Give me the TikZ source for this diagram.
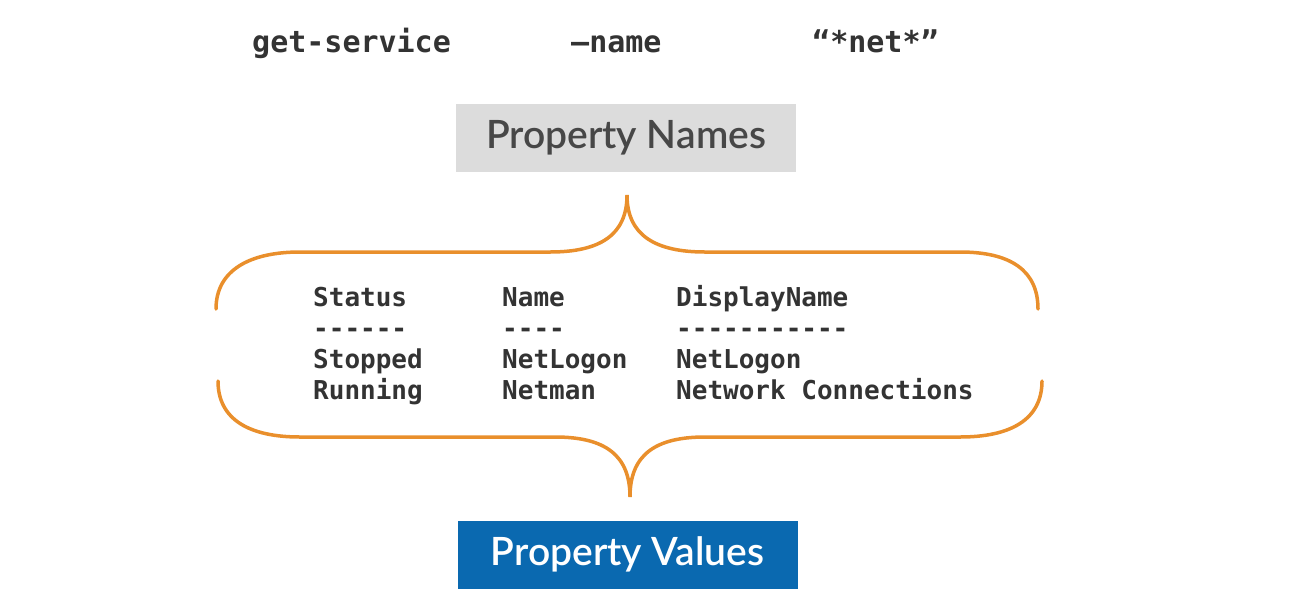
\documentclass[tikz,border=0pt]{standalone}
\usepackage{fontspec}
\setmainfont{Lato}
\newfontfamily\headfont{Lato Semibold}
\setmonofont{DejaVu Sans Mono}
\usetikzlibrary{positioning}
\definecolor{bracecol}{HTML}{E98F2C}
\definecolor{namegray}{HTML}{DCDCDC}
\definecolor{valueblue}{HTML}{0A69B0}
\definecolor{inkgray}{HTML}{333333}
\tikzset{
  cmd/.style={anchor=base west, inner sep=0pt, text=inkgray, font=\ttfamily\bfseries\fontsize{30}{30}\selectfont},
  cell/.style={anchor=base west, inner sep=0pt, text=inkgray, font=\ttfamily\bfseries\fontsize{26}{26}\selectfont},
  label/.style={minimum width=340pt, minimum height=68pt, inner sep=0pt, font=\headfont\fontsize{39}{39}\selectfont},
  brace/.style={draw=bracecol, line width=3.5pt, line cap=round}
}
\begin{document}
\begin{tikzpicture}[x=1pt,y=-1pt]
  \useasboundingbox (0,0) rectangle (1314,598);
  % command line
  \node[cmd] (cmd) at (252,52) {get-service};
  \node[cmd] (param) at (571,52) {—name};
  \node[cmd] (arg) at (812,52) {“*net*”};
  % boxes
  \node[label, fill=namegray, text=inkgray!90] (names) at (626,138) {Property Names};
  \node[label, fill=valueblue, text=white] (values) at (627.5,554.5) {Property Values};
  % table
  \node[cell] (h1) at (313,306) {Status};
  \node[cell] (h2) at (502,306) {Name};
  \node[cell] (h3) at (676,306) {DisplayName};
  \node[cell] (d1) at (313,337) {------};
  \node[cell] (d2) at (502,337) {----};
  \node[cell] (d3) at (676,337) {-----------};
  \node[cell] (a1) at (313,368) {Stopped};
  \node[cell] (a2) at (502,368) {NetLogon};
  \node[cell] (a3) at (676,368) {NetLogon};
  \node[cell] (b1) at (313,399) {Running};
  \node[cell] (b2) at (502,399) {Netman};
  \node[cell] (b3) at (676,399) {Network Connections};
  % braces
  \coordinate (topcusp) at (627,195);
  \coordinate (botcusp) at (630,497);
  \draw[brace] (216,309) .. controls (216,270) and (250,252) .. (300,252) -- (550,252)
    .. controls (600,252) and (627,235) .. (topcusp)
    .. controls (627,235) and (655,252) .. (705,252) -- (960,252)
    .. controls (1010,252) and (1038,270) .. (1038,309);
  \draw[brace] (218,381) .. controls (218,420) and (250,437) .. (300,437) -- (555,437)
    .. controls (605,437) and (630,455) .. (botcusp)
    .. controls (630,455) and (655,437) .. (705,437) -- (960,437)
    .. controls (1010,437) and (1042,420) .. (1042,381);
\end{tikzpicture}
\end{document}
